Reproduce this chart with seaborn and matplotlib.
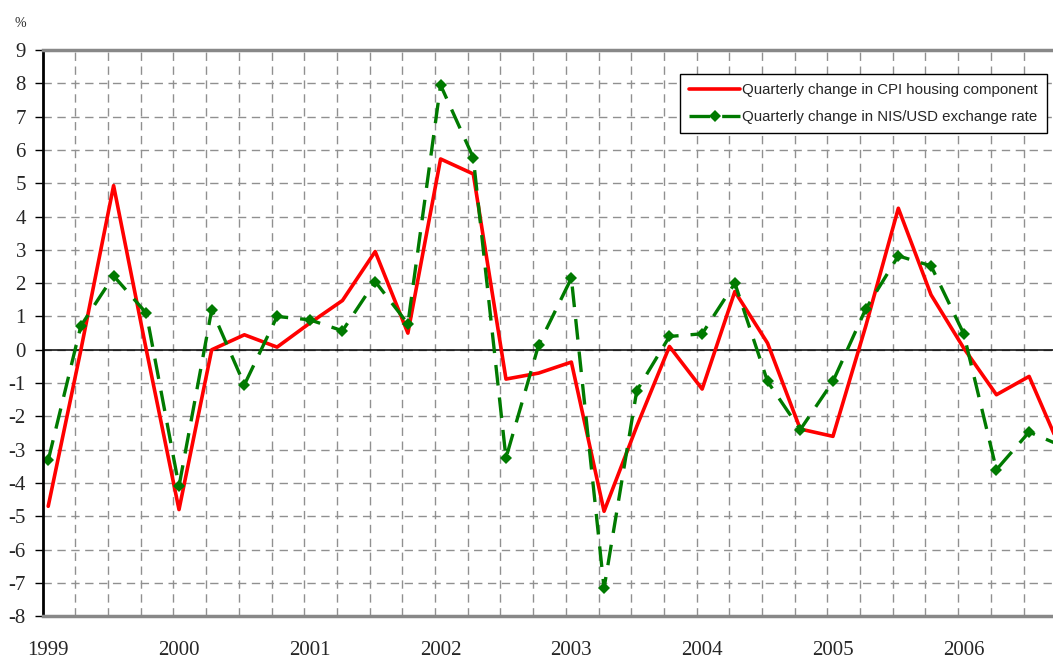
import pandas as pd
import matplotlib.pyplot as plt
import seaborn as sns

# quarterly data, 1999 Q1 .. 2006 Q4
years = ["1999", "2000", "2001", "2002", "2003", "2004", "2005", "2006"]
cpi_housing = [-4.7, 0.0, 4.93, 0.0, -4.8, 0.0, 0.45, 0.08,
               0.8, 1.48, 2.95, 0.5, 5.73, 5.28, -0.88, -0.7,
               -0.37, -4.85, -2.3, 0.1, -1.18, 1.75, 0.2, -2.38,
               -2.6, 0.7, 4.25, 1.65, 0.05, -1.35, -0.8, -3.07]
nis_usd = [-3.32, 0.72, 2.22, 1.1, -4.1, 1.2, -1.05, 1.0,
           0.9, 0.57, 2.05, 0.78, 7.95, 5.77, -3.25, 0.15,
           2.15, -7.16, -1.23, 0.4, 0.48, 2.0, -0.95, -2.4,
           -0.95, 1.22, 2.82, 2.52, 0.48, -3.6, -2.47, -2.89]

cpi_label = "Quarterly change in CPI housing component"
fx_label = "Quarterly change in NIS/USD exchange rate"

df = pd.DataFrame({"q": range(len(cpi_housing)),
                   "cpi": cpi_housing, "fx": nis_usd})

sns.set_style("white")
plt.rcParams["font.family"] = ["Liberation Serif", "DejaVu Serif"]
plt.rcParams["axes.unicode_minus"] = False

fig = plt.figure(figsize=(10.53, 6.59), dpi=100)
ax = fig.add_axes([0.0405, 0.065, 0.9595, 0.859])

sns.lineplot(data=df, x="q", y="cpi", ax=ax, color="#ff0000", lw=2.6,
             label=cpi_label)
sns.lineplot(data=df, x="q", y="fx", ax=ax, color="#007a00", lw=2.4,
             marker="D", markersize=6.5, markeredgewidth=0,
             dashes=False, label=fx_label)
ax.lines[1].set_dashes((6.2, 3.6))

ax.axhline(0, color="black", lw=1.1, zorder=1.5)

ax.set_xlim(-0.17, 30.73)
ax.set_ylim(-8, 9)
ax.set_yticks(range(-8, 10))
ax.set_xticks([4 * i for i in range(len(years))])
ax.set_xticklabels(years)
ax.set_xticks([k - 0.17 for k in range(1, 31)], minor=True)

ax.grid(axis="y", which="major", color="#909090", lw=1.0, ls=(0, (6, 4)))
ax.grid(axis="x", which="minor", color="#909090", lw=1.0, ls=(0, (6, 4)))
ax.set_axisbelow(True)

ax.tick_params(axis="y", which="major", length=6, width=1, color="black",
               direction="out", left=True, labelsize=15, pad=6)
ax.tick_params(axis="x", which="both", length=0, labelsize=15, pad=18)
ax.set_xlabel("")
ax.set_ylabel("")

ax.spines["left"].set_color("black")
ax.spines["left"].set_linewidth(2)
for s in ["top", "bottom"]:
    ax.spines[s].set_color("#888888")
    ax.spines[s].set_linewidth(2.5)
ax.spines["right"].set_visible(False)

fig.text(0.014, 0.965, "%", fontsize=10, ha="left", va="center")

leg = ax.legend(loc="upper right", bbox_to_anchor=(0.994, 0.958),
                prop={"family": "Liberation Sans", "size": 10.8},
                frameon=True, fancybox=False, edgecolor="black",
                framealpha=1, handlelength=3.4, handletextpad=0.15,
                borderpad=0.6, labelspacing=0.9, borderaxespad=0)
leg.get_frame().set_linewidth(1.0)

fig.savefig("out.png", dpi=100)
